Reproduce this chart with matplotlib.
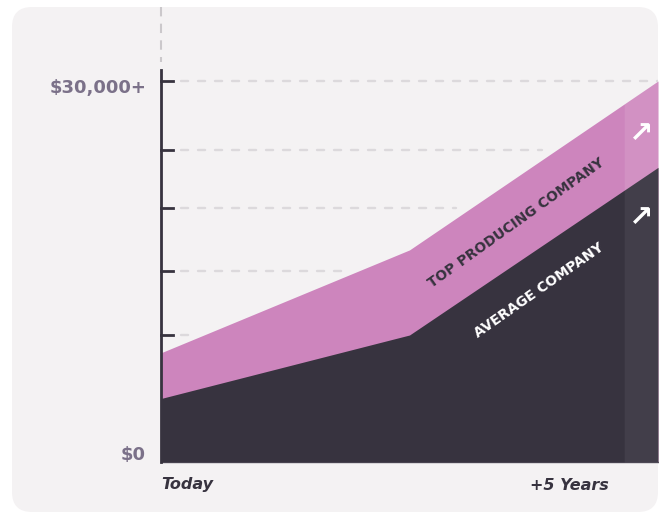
import numpy as np
import matplotlib.pyplot as plt
from matplotlib.patches import FancyBboxPatch

# Data (years from today, income in $)
years = [0, 2.5, 5]
top_company = [8600, 16700, 30000]
avg_company = [5000, 10000, 23200]
grid_values = [10000, 15000, 20000, 24600, 30000]
y_labels = ['$0', '$30,000+']
y_label_vals = [550, 29450]
band_start = 4.66

# Colors
purple = '#cd85bd'
dark = '#37333f'
card = '#f4f2f3'
grid_col = '#dcd9dc'
label_col = '#7b7189'

W, H = 659, 514
fig = plt.figure(figsize=(W / 100, H / 100), dpi=100)
fig.patch.set_facecolor('white')

# rounded card in the background, drawn in pixel coordinates
bg = fig.add_axes([0, 0, 1, 1], zorder=-1)
bg.set_xlim(0, W)
bg.set_ylim(H, 0)
bg.axis('off')
bg.add_patch(FancyBboxPatch((12, 7), 646, 505, boxstyle='round,pad=0,rounding_size=20',
                            facecolor=card, edgecolor='none'))
# dashed extension above the y axis
bg.plot([161, 161], [7, 62], color='#cbc8cb', lw=1.5, ls=(0, (4.5, 3.5)))

ax = fig.add_axes([161 / W, 1 - 462 / H, 497 / W, (462 - 70) / H], zorder=1)
ax.set_facecolor('none')
ax.set_xlim(0, 5)
ax.set_ylim(0, 30866)

ax.fill_between(years, 0, top_company, color=purple, lw=0, zorder=2)
ax.fill_between(years, 0, avg_company, color=dark, lw=0, zorder=3)

# lighter band at the right end
xb = np.array([band_start, 5])
ax.fill_between(xb, np.interp(xb, years, avg_company), np.interp(xb, years, top_company),
                color='white', alpha=0.1, lw=0, zorder=4)
ax.fill_between(xb, 0, np.interp(xb, years, avg_company),
                color='white', alpha=0.06, lw=0, zorder=4)

# dashed gridlines stopping just before the purple area
for g in grid_values:
    x_end = np.interp(g, top_company, years) - 0.15
    if g >= 30000:
        x_end = 5
    ax.plot([0.2, x_end], [g, g], color=grid_col, lw=1.7, ls=(0, (3.0, 4.2)),
            zorder=1, dash_capstyle='round')
    ax.plot([0, 0.12], [g, g], color=dark, lw=2, zorder=5, clip_on=False)

for spine in ['top', 'right']:
    ax.spines[spine].set_visible(False)
ax.spines['left'].set_color(dark)
ax.spines['left'].set_linewidth(2)
ax.spines['bottom'].set_color('#5a5563')
ax.spines['bottom'].set_linewidth(1)
ax.spines['left'].set_zorder(6)
ax.set_xticks([])
ax.set_yticks([])

font = 'DejaVu Sans'
for val, txt in zip(y_label_vals, y_labels):
    ax.text(-0.15, val, txt, ha='right', va='center', fontsize=13,
            fontweight='bold', color=label_col, family=font)

fig.text(161 / W, 1 - 485 / H, 'Today', ha='left', va='center', fontsize=11.5,
         fontweight='bold', style='italic', color=dark, family=font)
fig.text(609 / W, 1 - 485 / H, '+5 Years', ha='right', va='center', fontsize=11.5,
         fontweight='bold', style='italic', color=dark, family=font)

ax.text(3.57, 18850, 'TOP PRODUCING COMPANY', rotation=35.5, rotation_mode='anchor',
        ha='center', va='center', fontsize=10, fontweight='bold', color=dark,
        family=font, zorder=7)
ax.text(3.80, 13540, 'AVERAGE COMPANY', rotation=35, rotation_mode='anchor',
        ha='center', va='center', fontsize=10, fontweight='bold', color='white',
        family=font, zorder=7)

for yv in [25800, 19200]:
    ax.text(4.83, yv, '\u2197', ha='center', va='center', fontsize=21,
            fontweight='bold', color='white', family=font, zorder=7)

fig.savefig('out.png', dpi=100, facecolor='white')
